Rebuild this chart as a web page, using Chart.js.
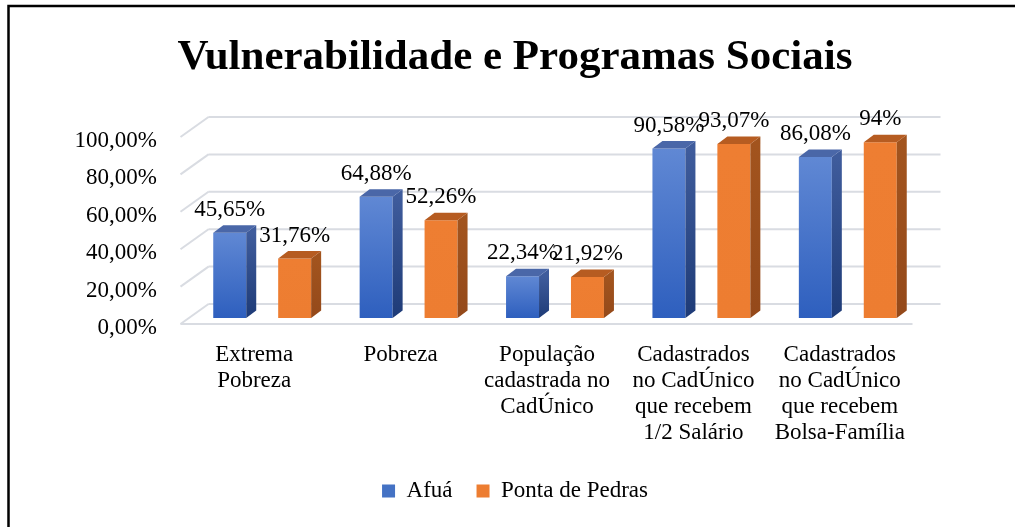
<!DOCTYPE html>
<html><head><meta charset="utf-8">
<script src="https://cdn.jsdelivr.net/npm/chart.js@4"></script>
<style>html,body{margin:0;padding:0;background:#fff;overflow:hidden}canvas{display:block}</style>
</head><body>
<canvas id="c" width="1015" height="527"></canvas>
<script>
// ---- data ----
const categories = [
  ["Extrema", "Pobreza"],
  ["Pobreza"],
  ["População", "cadastrada no", "CadÚnico"],
  ["Cadastrados", "no CadÚnico", "que recebem", "1/2 Salário"],
  ["Cadastrados", "no CadÚnico", "que recebem", "Bolsa-Família"]
];
const seriesNames = ["Afuá", "Ponta de Pedras"];
const afuaValues = [45.65, 64.88, 22.34, 90.58, 86.08];
const pontaValues = [31.76, 52.26, 21.92, 93.07, 94];
const yTicks = [0, 20, 40, 60, 80, 100];
const chartTitle = "Vulnerabilidade e Programas Sociais";

// ---- styles ----
const FONT = "'Liberation Serif', 'Times New Roman', serif";
const DEPTH_BAR = {dx: 10, dy: -7.5};
const BACK = {dx: 19.5, dy: -14};
const FRONT = {dx: -8.5, dy: 6};

function fmtPct(v) {
  return Number.isInteger(v) ? v + '%' : v.toFixed(2).replace('.', ',') + '%';
}

function gradFront(ctx, c0, c1) {
  const chart = ctx.chart;
  if (!chart.chartArea || ctx.type !== 'data') return c0;
  const y = chart.scales.y;
  const top = y.getPixelForValue(ctx.raw), base = y.getPixelForValue(0);
  const g = chart.ctx.createLinearGradient(0, top, 0, base);
  g.addColorStop(0, c0); g.addColorStop(1, c1);
  return g;
}

const styles = [
  {front: ['#6088d4', '#2e5fbe'], side: ['#3f5c9c', '#1e3b77'], top: '#4a67a8', legend: '#4472c4'},
  {front: ['#ee7e32', '#ed7d31'], side: ['#a2541e', '#94491a'], top: '#b65c21', legend: '#ed7d31'}
];

const gridPlugin = {
  id: 'grid3d',
  beforeDatasetsDraw(chart) {
    const {ctx, chartArea: a, scales: {y}} = chart;
    ctx.save();
    ctx.strokeStyle = '#d9dce2';
    ctx.lineWidth = 2;
    yTicks.forEach(v => {
      const py = y.getPixelForValue(v);
      ctx.beginPath();
      ctx.moveTo(a.left + BACK.dx, py + BACK.dy);
      ctx.lineTo(a.right + BACK.dx, py + BACK.dy);
      ctx.moveTo(a.left + FRONT.dx, py + FRONT.dy);
      ctx.lineTo(a.left + BACK.dx, py + BACK.dy);
      ctx.stroke();
    });
    const p0 = y.getPixelForValue(0);
    ctx.beginPath();
    ctx.moveTo(a.left + FRONT.dx, p0 + FRONT.dy);
    ctx.lineTo(a.right + FRONT.dx, p0 + FRONT.dy);
    ctx.stroke();
    ctx.restore();
  }
};

const bar3dPlugin = {
  id: 'bar3d',
  afterDatasetsDraw(chart) {
    const ctx = chart.ctx;
    const {dx, dy} = DEPTH_BAR;
    chart.data.datasets.forEach((ds, di) => {
      const meta = chart.getDatasetMeta(di);
      const st = styles[di];
      meta.data.forEach((el, i) => {
        const p = el.getProps(['x', 'y', 'base', 'width'], true);
        const l = p.x - p.width / 2, r = p.x + p.width / 2, t = p.y, b = p.base;
        const g = ctx.createLinearGradient(0, t, 0, b);
        g.addColorStop(0, st.side[0]); g.addColorStop(1, st.side[1]);
        ctx.fillStyle = g;
        ctx.beginPath();
        ctx.moveTo(r, t); ctx.lineTo(r + dx, t + dy); ctx.lineTo(r + dx, b + dy); ctx.lineTo(r, b);
        ctx.closePath(); ctx.fill();
        ctx.fillStyle = st.top;
        ctx.beginPath();
        ctx.moveTo(l, t); ctx.lineTo(l + dx, t + dy); ctx.lineTo(r + dx, t + dy); ctx.lineTo(r, t);
        ctx.closePath(); ctx.fill();
      });
    });
    ctx.save();
    ctx.font = '23px ' + FONT;
    ctx.fillStyle = '#000';
    ctx.textAlign = 'center';
    ctx.textBaseline = 'alphabetic';
    chart.data.datasets.forEach((ds, di) => {
      const meta = chart.getDatasetMeta(di);
      meta.data.forEach((el, i) => {
        const p = el.getProps(['x', 'y'], true);
        ctx.fillText(fmtPct(ds.data[i]), p.x, p.y - 17);
      });
    });
    ctx.restore();
  }
};

const framePlugin = {
  id: 'frame',
  beforeDraw(chart) {
    const ctx = chart.ctx;
    ctx.save();
    ctx.fillStyle = '#fff';
    ctx.fillRect(0, 0, chart.width, chart.height);
    ctx.restore();
  },
  afterDraw(chart) {
    const ctx = chart.ctx;
    ctx.save();
    ctx.strokeStyle = '#000';
    ctx.lineWidth = 2.5;
    ctx.beginPath();
    ctx.moveTo(8.5, chart.height);
    ctx.lineTo(8.5, 6);
    ctx.lineTo(chart.width, 6);
    ctx.stroke();
    ctx.restore();
  }
};

new Chart(document.getElementById('c'), {
  type: 'bar',
  data: {
    labels: categories,
    datasets: [
      {label: seriesNames[0], data: afuaValues,
       backgroundColor: c => gradFront(c, styles[0].front[0], styles[0].front[1])},
      {label: seriesNames[1], data: pontaValues,
       backgroundColor: c => gradFront(c, styles[1].front[0], styles[1].front[1])}
    ].map(d => Object.assign(d, {categoryPercentage: 0.887, barPercentage: 0.508, borderWidth: 0, clip: false, yAxisID: 'y'}))
  },
  options: {
    responsive: false,
    animation: false,
    devicePixelRatio: 1,
    layout: {padding: {left: 50, right: 35, top: 10, bottom: 14.5}},
    plugins: {
      title: {
        display: true, text: chartTitle, color: '#000',
        font: {family: FONT, size: 43, weight: 'bold', lineHeight: 1.2},
        padding: {top: 22, bottom: 47.4}
      },
      legend: {
        position: 'bottom',
        labels: {
          color: '#000', font: {family: FONT, size: 23},
          boxWidth: 13, boxHeight: 13, padding: 24,
          generateLabels: () => seriesNames.map((n, i) => ({
            text: n, fillStyle: styles[i].legend, strokeStyle: styles[i].legend,
            lineWidth: 0, datasetIndex: i, fontColor: '#000'
          }))
        }
      },
      tooltip: {enabled: false}
    },
    scales: {
      x: {
        grid: {display: false, drawTicks: false}, border: {display: false},
        ticks: {color: '#000', font: {family: FONT, size: 23, lineHeight: 1.13},
                padding: 24, labelOffset: -8, maxRotation: 0, minRotation: 0, autoSkip: false},
        afterFit(s) { s.height = 137.5; }
      },
      y: {
        min: 0, max: 100,
        grid: {display: false, drawTicks: false}, border: {display: false},
        afterBuildTicks(s) { s.ticks = yTicks.map(v => ({value: v})); },
        ticks: {color: '#000', font: {family: FONT, size: 23}, padding: 32, labelOffset: 10,
                callback: v => v.toFixed(2).replace('.', ',') + '%'},
        afterFit(s) { s.width = 139; }
      },
      spacer: {
        position: 'right', display: true,
        grid: {display: false, drawTicks: false}, border: {display: false},
        ticks: {display: false},
        afterFit(s) { s.width = 59; }
      }
    }
  },
  plugins: [framePlugin, gridPlugin, bar3dPlugin]
});
</script>
</body></html>
